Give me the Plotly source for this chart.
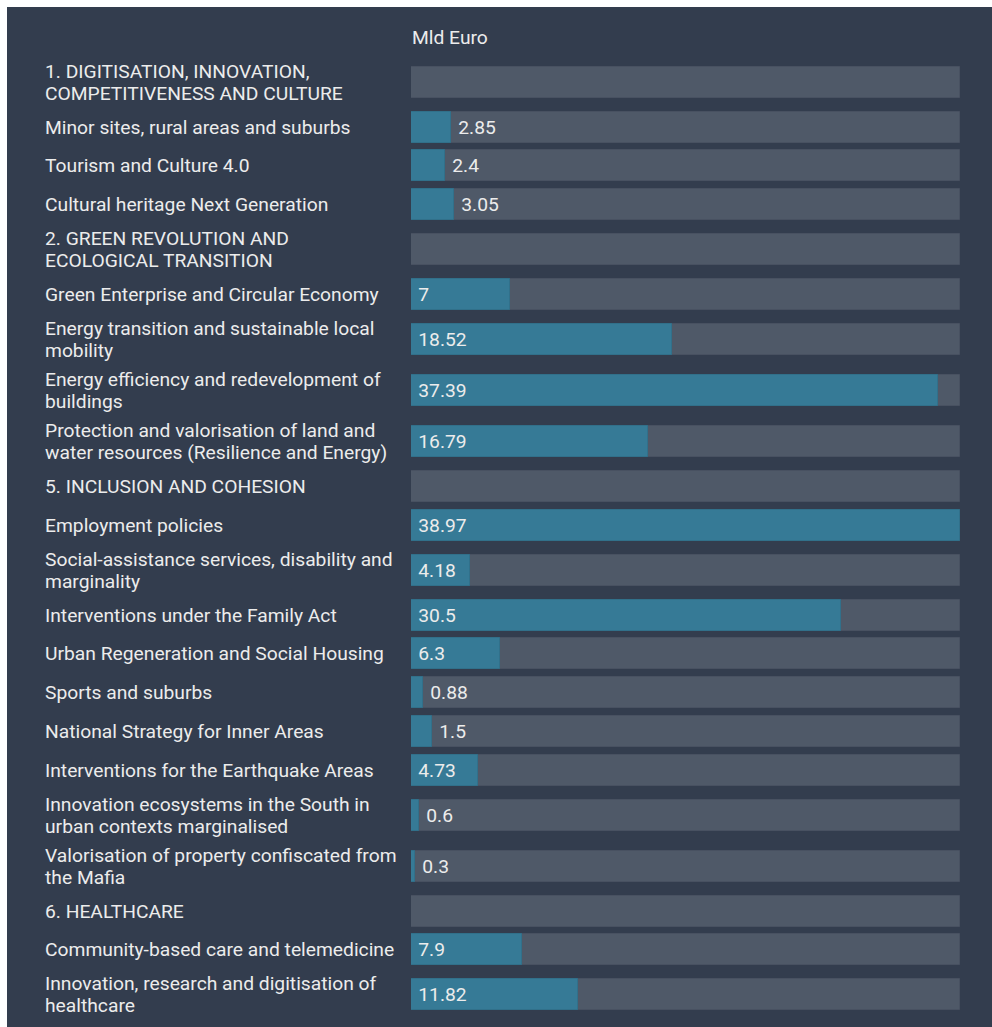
import plotly.graph_objects as go

labels = [
    "1. DIGITISATION, INNOVATION,<br>COMPETITIVENESS AND CULTURE",
    "Minor sites, rural areas and suburbs",
    "Tourism and Culture 4.0",
    "Cultural heritage Next Generation",
    "2. GREEN REVOLUTION AND<br>ECOLOGICAL TRANSITION",
    "Green Enterprise and Circular Economy",
    "Energy transition and sustainable local<br>mobility",
    "Energy efficiency and redevelopment of<br>buildings",
    "Protection and valorisation of land and<br>water resources (Resilience and Energy)",
    "5. INCLUSION AND COHESION",
    "Employment policies",
    "Social-assistance services, disability and<br>marginality",
    "Interventions under the Family Act",
    "Urban Regeneration and Social Housing",
    "Sports and suburbs",
    "National Strategy for Inner Areas",
    "Interventions for the Earthquake Areas",
    "Innovation ecosystems in the South in<br>urban contexts marginalised",
    "Valorisation of property confiscated from<br>the Mafia",
    "6. HEALTHCARE",
    "Community-based care and telemedicine",
    "Innovation, research and digitisation of<br>healthcare",
]
values = [None, 2.85, 2.4, 3.05, None, 7, 18.52, 37.39, 16.79, None, 38.97, 4.18,
          30.5, 6.3, 0.88, 1.5, 4.73, 0.6, 0.3, None, 7.9, 11.82]
unit_label = "Mld Euro"

W, H = 992, 1027
BG = "#333d4e"
GREY = "#4f5968"
TEAL = "#367a96"
TXT = "#ececec"
FONT = "Roboto"
FS = 19.25
LINE_H = 22

# row layout: y axis in pixel units, row height depends on label line count
base_h, extra_h, top = 38.7, 12.5, 56.5
ys = []
cur = top
for lab in labels:
    n = lab.count("<br>") + 1
    h = base_h + extra_h * (n - 1)
    ys.append(cur + h / 2)
    cur += h

vmax = max(v for v in values if v is not None)

fig = go.Figure()
fig.add_trace(go.Bar(
    x=[vmax] * len(labels), y=ys, orientation="h", width=31,
    marker=dict(color=GREY, line=dict(color="#485161", width=1)),
    hoverinfo="skip", showlegend=False,
))
fig.add_trace(go.Bar(
    x=values, y=ys, orientation="h", width=31,
    marker=dict(color=TEAL, line=dict(color="#31708a", width=1)),
    text=["\u00a0" + (f"{v:g}") if v is not None else "" for v in values],
    textposition="auto", insidetextanchor="start",
    textfont=dict(family=FONT, size=FS, color=TXT),
    insidetextfont=dict(family=FONT, size=FS, color=TXT),
    outsidetextfont=dict(family=FONT, size=FS, color=TXT),
    textangle=0, cliponaxis=False,
    hoverinfo="skip", showlegend=False,
))

for lab, y in zip(labels, ys):
    lines = lab.split("<br>")
    n = len(lines)
    for i, line in enumerate(lines):
        shift = ((n - 1) / 2 - i) * LINE_H
        fig.add_annotation(
            x=43 / W, xref="paper", y=y, yref="y", text=line, showarrow=False,
            xanchor="left", yanchor="middle", align="left", yshift=shift,
            font=dict(family=FONT, size=FS, color=TXT),
        )

fig.add_annotation(
    x=410 / W, xref="paper", y=37, yref="y", text=unit_label, showarrow=False,
    xanchor="left", yanchor="middle", font=dict(family=FONT, size=FS, color=TXT),
)

fig.add_shape(type="rect", xref="paper", yref="paper", x0=7 / W, x1=1.0,
              y0=0, y1=1 - 7 / H, fillcolor=BG, line=dict(width=0), layer="below")

fig.update_layout(
    width=W, height=H, margin=dict(l=0, r=0, t=0, b=0),
    paper_bgcolor="white", plot_bgcolor="rgba(0,0,0,0)",
    barmode="overlay", bargap=0,
    xaxis=dict(domain=[411 / W, 960 / W], range=[0, vmax], visible=False, fixedrange=True),
    yaxis=dict(domain=[0, 1], range=[H, 0], visible=False, fixedrange=True),
    font=dict(family=FONT),
)

fig.write_html("out.html")
